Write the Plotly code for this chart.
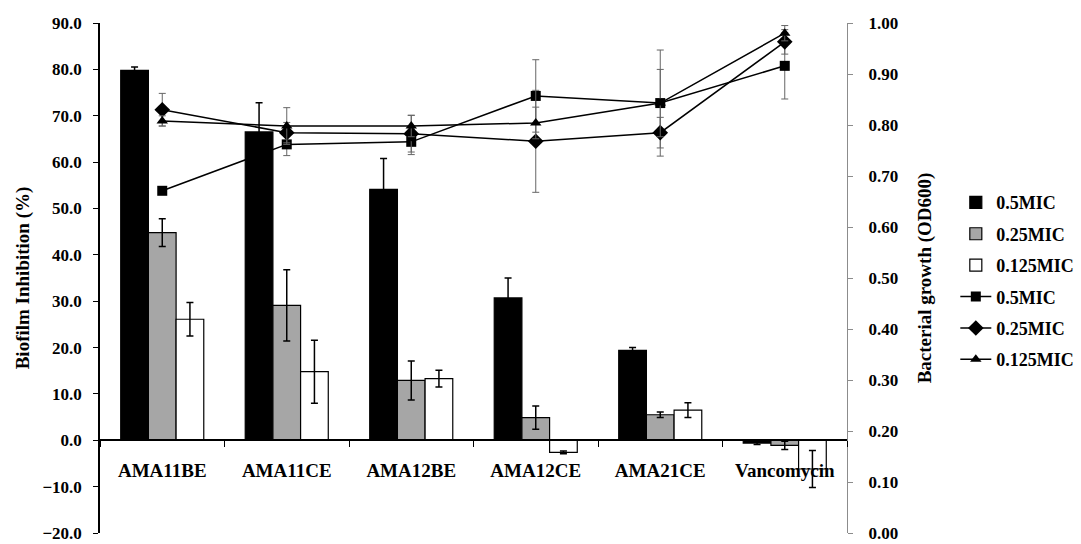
import plotly.graph_objects as go

# Extracts tested
categories = ["AMA11BE", "AMA11CE", "AMA12BE", "AMA12CE", "AMA21CE", "Vancomycin"]

# Biofilm inhibition (%) — bars, left axis
inhib_05 = [79.8, 66.5, 54.1, 30.7, 19.4, -0.6]
inhib_05_err = [0.7, 6.3, 6.7, 4.3, 0.6, 0.3]
inhib_025 = [44.8, 29.1, 12.9, 4.9, 5.5, -1.1]
inhib_025_err = [3.0, 7.7, 4.2, 2.5, 0.6, 0.9]
inhib_0125 = [26.1, 14.8, 13.3, -2.6, 6.5, -6.2]
inhib_0125_err = [3.6, 6.8, 1.8, 0.3, 1.6, 4.0]

# Bacterial growth (OD600) — lines, right axis
growth_05 = [0.671, 0.762, 0.767, 0.857, 0.843, 0.916]
growth_05_err = [0.005, 0.022, 0.025, 0.071, 0.104, 0.065]
growth_025 = [0.830, 0.785, 0.783, 0.768, 0.785, 0.963]
growth_025_err = [0.032, 0.020, 0.036, 0.100, 0.030, 0.024]
growth_0125 = [0.808, 0.798, 0.798, 0.804, 0.843, 0.980]
growth_0125_err = [0.010, 0.036, 0.021, 0.031, 0.066, 0.015]

FONT = "Liberation Serif"

fig = go.Figure()

bar_specs = [
    ("0.5MIC", inhib_05, inhib_05_err, "#000000"),
    ("0.25MIC", inhib_025, inhib_025_err, "#a6a6a6"),
    ("0.125MIC", inhib_0125, inhib_0125_err, "#ffffff"),
]
for i, (name, vals, errs, color) in enumerate(bar_specs):
    fig.add_trace(go.Bar(
        x=categories, y=vals, name=name,
        marker=dict(color=color, line=dict(color="#000000", width=1.2)),
        error_y=dict(type="data", array=errs, color="#000000", thickness=1.5, width=3.5),
        legendgroup=f"b{i}",
        xaxis="x", yaxis="y",
    ))

line_specs = [
    ("0.5MIC", growth_05, growth_05_err, "square", 10),
    ("0.25MIC", growth_025, growth_025_err, "diamond", 12),
    ("0.125MIC", growth_0125, growth_0125_err, "triangle-up", 10),
]
for i, (name, vals, errs, sym, size) in enumerate(line_specs):
    fig.add_trace(go.Scatter(
        x=categories, y=vals, name=name, mode="lines+markers",
        line=dict(color="#000000", width=1.5),
        marker=dict(symbol=sym, size=size, color="#000000"),
        error_y=dict(type="data", array=errs, color="#666666", thickness=1, width=3.5),
        legendgroup=f"l{i}",
        xaxis="x", yaxis="y2",
    ))

fig.update_layout(
    width=1081, height=544,
    margin=dict(l=100, r=234, t=23, b=11, autoexpand=False),
    paper_bgcolor="white", plot_bgcolor="white",
    barmode="group", bargap=0.333, bargroupgap=0,
    font=dict(family=FONT, color="#000000", size=16, weight="bold"),
    showlegend=True,
    legend=dict(
        x=1.145, y=0.684, xanchor="left", yanchor="top",
        font=dict(family=FONT, size=18, weight="bold"),
        tracegroupgap=5, itemwidth=31,
        bgcolor="rgba(0,0,0,0)",
    ),
    xaxis=dict(
        type="category",
        anchor="free", position=20 / 110,
        showline=True, linecolor="#000000", linewidth=1.5,
        ticks="outside", ticklen=6, tickcolor="#000000", tickwidth=1.2,
        tickson="boundaries",
        tickfont=dict(family=FONT, size=19, weight="bold"),
        ticklabelstandoff=13,
        showgrid=False, zeroline=False,
        layer="above traces",
    ),
    yaxis=dict(
        range=[-20, 90], dtick=10, tickformat=".1f",
        showline=True, linecolor="#000000", linewidth=1.5,
        ticks="outside", ticklen=5, tickcolor="#000000", tickwidth=1.2,
        tickfont=dict(family=FONT, size=17, weight="bold"),
        ticklabelstandoff=8, ticklabeloverflow="allow",
        showgrid=False, zeroline=False,
        title=dict(text="Biofilm Inhibition (%)",
                   font=dict(family=FONT, size=19, weight="bold"), standoff=8),
    ),
    yaxis2=dict(
        overlaying="y", side="right", anchor="x",
        range=[0, 1], dtick=0.1, tickformat=".2f",
        showline=True, linecolor="#8c8c8c", linewidth=1.2,
        ticks="outside", ticklen=5, tickcolor="#8c8c8c", tickwidth=1,
        tickfont=dict(family=FONT, size=17, weight="bold"),
        ticklabelstandoff=12, ticklabeloverflow="allow",
        showgrid=False, zeroline=False,
        title=dict(text="Bacterial growth (OD600)",
                   font=dict(family=FONT, size=19, weight="bold"), standoff=20),
    ),
)

fig.write_html("out.html")
